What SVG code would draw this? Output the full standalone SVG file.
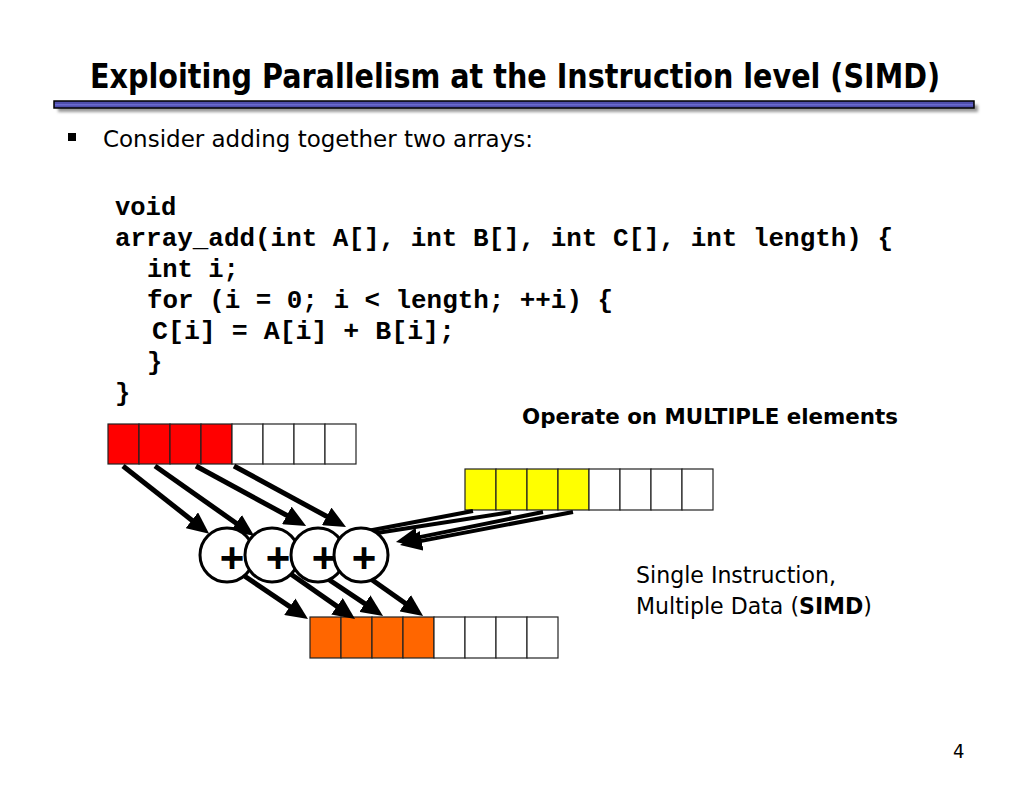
<svg xmlns="http://www.w3.org/2000/svg" width="1024" height="791" viewBox="0 0 1024 791">
<style>
.sans{font-family:"DejaVu Sans Condensed","DejaVu Sans","Open Sans",sans-serif;fill:#000}
.code{font-family:"Liberation Mono","Courier New",monospace;font-weight:bold;font-size:25.5px;fill:#000}
.cell{stroke:#222;stroke-width:1.2}
.arr{stroke:#000;stroke-width:5;fill:none}
.yarr{stroke:#000;stroke-width:4;fill:none}
.op{fill:#fff;stroke:#000;stroke-width:3}
.plus{font-family:"Liberation Sans",Arial,sans-serif;font-size:42px;font-weight:bold;fill:#000;text-anchor:middle}
</style>
<defs>
<marker id="ah" viewBox="0 0 22 20" markerUnits="userSpaceOnUse" markerWidth="22" markerHeight="20" refX="4" refY="10" orient="auto">
<path d="M0,0 L22,10 L0,20 z" fill="#000"/>
</marker>
<filter id="shadow" x="-5%" y="-100%" width="110%" height="400%">
<feGaussianBlur stdDeviation="1.8"/>
</filter>
</defs>
<rect width="1024" height="791" fill="#fff"/>

<g id="title">
<text class="sans" x="515" y="88" font-size="34" font-weight="bold" text-anchor="middle" textLength="850" lengthAdjust="spacingAndGlyphs">Exploiting Parallelism at the Instruction level (SIMD)</text>
<rect x="58" y="105" width="920" height="7" fill="#999" filter="url(#shadow)"/>
<rect x="54" y="101" width="920" height="7" fill="#4f4fae" stroke="#000" stroke-width="1.5"/>
<rect x="55" y="104" width="918" height="1.5" fill="#6a6ad0"/>
</g>

<g id="bullet">
<rect x="68" y="133" width="8" height="8" fill="#000"/>
<text class="sans" x="103" y="147" font-size="23" textLength="430" lengthAdjust="spacingAndGlyphs">Consider adding together two arrays:</text>
</g>

<g id="code">
<text class="code" x="115" y="215">void</text>
<text class="code" x="115" y="246" textLength="778" lengthAdjust="spacingAndGlyphs">array_add(int A[], int B[], int C[], int length) {</text>
<text class="code" x="147" y="277">int i;</text>
<text class="code" x="147" y="308" textLength="466" lengthAdjust="spacingAndGlyphs">for (i = 0; i &lt; length; ++i) {</text>
<text class="code" x="152" y="339" textLength="303" lengthAdjust="spacingAndGlyphs">C[i] = A[i] + B[i];</text>
<text class="code" x="147" y="370">}</text>
<text class="code" x="115" y="401">}</text>
</g>

<g id="labels">
<text class="sans" x="522" y="424" font-size="22" font-weight="bold" textLength="376" lengthAdjust="spacingAndGlyphs">Operate on MULTIPLE elements</text>
<text class="sans" x="636" y="583" font-size="23" textLength="200" lengthAdjust="spacingAndGlyphs">Single Instruction,</text>
<text class="sans" x="636" y="614" font-size="23" textLength="236" lengthAdjust="spacingAndGlyphs">Multiple Data (<tspan font-weight="bold">SIMD</tspan>)</text>
<text class="sans" x="953" y="758" font-size="20">4</text>
</g>

<g id="arrayA">
<rect class="cell" x="108" y="424" width="31" height="40" fill="#ff0000"/>
<rect class="cell" x="139" y="424" width="31" height="40" fill="#ff0000"/>
<rect class="cell" x="170" y="424" width="31" height="40" fill="#ff0000"/>
<rect class="cell" x="201" y="424" width="31" height="40" fill="#ff0000"/>
<rect class="cell" x="232" y="424" width="31" height="40" fill="#fff"/>
<rect class="cell" x="263" y="424" width="31" height="40" fill="#fff"/>
<rect class="cell" x="294" y="424" width="31" height="40" fill="#fff"/>
<rect class="cell" x="325" y="424" width="31" height="40" fill="#fff"/>
</g>

<g id="arrayB">
<rect class="cell" x="465" y="469" width="31" height="41" fill="#ffff00"/>
<rect class="cell" x="496" y="469" width="31" height="41" fill="#ffff00"/>
<rect class="cell" x="527" y="469" width="31" height="41" fill="#ffff00"/>
<rect class="cell" x="558" y="469" width="31" height="41" fill="#ffff00"/>
<rect class="cell" x="589" y="469" width="31" height="41" fill="#fff"/>
<rect class="cell" x="620" y="469" width="31" height="41" fill="#fff"/>
<rect class="cell" x="651" y="469" width="31" height="41" fill="#fff"/>
<rect class="cell" x="682" y="469" width="31" height="41" fill="#fff"/>
</g>

<g id="arrayC">
<rect class="cell" x="310" y="617" width="31" height="41" fill="#ff6600"/>
<rect class="cell" x="341" y="617" width="31" height="41" fill="#ff6600"/>
<rect class="cell" x="372" y="617" width="31" height="41" fill="#ff6600"/>
<rect class="cell" x="403" y="617" width="31" height="41" fill="#ff6600"/>
<rect class="cell" x="434" y="617" width="31" height="41" fill="#fff"/>
<rect class="cell" x="465" y="617" width="31" height="41" fill="#fff"/>
<rect class="cell" x="496" y="617" width="31" height="41" fill="#fff"/>
<rect class="cell" x="527" y="617" width="31" height="41" fill="#fff"/>
</g>

<g id="connectors">
<line class="arr" x1="123" y1="466" x2="195" y2="522.7" marker-end="url(#ah)"/>
<line class="arr" x1="155" y1="466" x2="239.4" y2="525.5" marker-end="url(#ah)"/>
<line class="arr" x1="196" y1="466" x2="290.3" y2="517.3" marker-end="url(#ah)"/>
<line class="arr" x1="234" y1="466" x2="330.2" y2="518.3" marker-end="url(#ah)"/>
<line class="yarr" x1="473" y1="511" x2="362" y2="532"/>
<line class="yarr" x1="511" y1="512" x2="364" y2="535"/>
<line class="yarr" x1="543" y1="512" x2="413.6" y2="538.4" marker-end="url(#ah)"/>
<line class="yarr" x1="573" y1="512" x2="417.7" y2="541.6" marker-end="url(#ah)"/>
<line class="arr" x1="240" y1="573" x2="293.1" y2="608.9" marker-end="url(#ah)"/>
<line class="arr" x1="285" y1="570" x2="340.3" y2="608.6" marker-end="url(#ah)"/>
<line class="arr" x1="322" y1="575" x2="368.1" y2="605.9" marker-end="url(#ah)"/>
<line class="arr" x1="368" y1="577" x2="408.4" y2="605.5" marker-end="url(#ah)"/>
</g>

<g id="op1"><circle class="op" cx="227" cy="555" r="27"/><text class="plus" x="232" y="572">+</text></g>
<g id="op2"><circle class="op" cx="272" cy="555" r="27"/><text class="plus" x="278" y="572">+</text></g>
<g id="op3"><circle class="op" cx="318" cy="555" r="27"/><text class="plus" x="324" y="572">+</text></g>
<g id="op4"><circle class="op" cx="361" cy="555" r="27"/><text class="plus" x="364" y="572">+</text></g>
</svg>
